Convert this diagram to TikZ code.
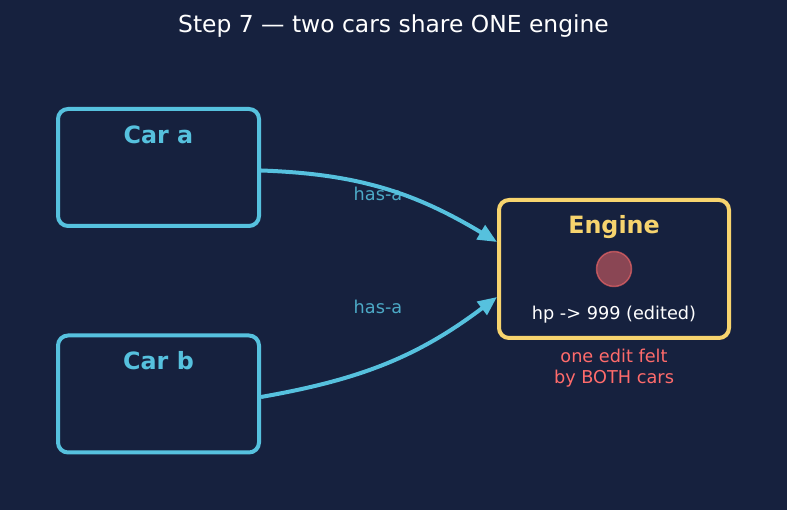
\documentclass[tikz,border=0pt]{standalone}
\usepackage{fontspec}
\setmainfont{DejaVu Sans}
\usetikzlibrary{arrows.meta, positioning}
\definecolor{bgnavy}{HTML}{16213E}
\definecolor{carblue}{HTML}{56C1DE}
\definecolor{engyellow}{HTML}{F7D46E}
\definecolor{editred}{HTML}{FF6B6B}

\begin{document}
\begin{tikzpicture}[x=1pt, y=1pt,
  every node/.style={font=\fontsize{17.7}{21}\selectfont},
  carbox/.style={draw=carblue, line width=4pt, rounded corners=10pt,
    minimum width=201pt, minimum height=117pt},
  engbox/.style={draw=engyellow, line width=4pt, rounded corners=10pt,
    minimum width=230pt, minimum height=138pt},
  boxtitle/.style={font=\fontsize{23.8}{28}\selectfont\bfseries},
  hasarrow/.style={draw=carblue, line width=4pt,
    -{Triangle[length=19pt, width=16pt]}}
]
  \fill[bgnavy] (0,0) rectangle (787,510);
  \node[white, font=\fontsize{23.4}{28}\selectfont] (title) at (393.5,484)
    {Step 7 — two cars share ONE engine};

  % the two cars
  \foreach \name/\lab/\y in {carA/Car a/342.5, carB/Car b/116}
  {
    \node[carbox] (\name) at (158.5,\y) {};
    \node[boxtitle, text=carblue] at ([yshift=-27.5pt]\name.north) {\lab};
  }

  % the shared engine
  \node[engbox] (engine) at (614,241) {};
  \node[boxtitle, text=engyellow] (engtitle) at ([yshift=-29pt]engine.north) {Engine};
  \fill[editred, opacity=0.5] (engine.center) circle (17.5);
  \draw[editred, opacity=0.6, line width=1.5pt] (engine.center) circle (17.5);
  \node[white] (hp) at ([yshift=-45.5pt]engine.center) {hp -> 999 (edited)};
  \node[text=editred, align=center] (note) at ([yshift=-99pt]engine.center)
    {one edit felt\\by BOTH cars};

  \node[text=carblue!85!bgnavy] (labA) at (378,316) {has-a};
  \node[text=carblue!85!bgnavy] (labB) at (378,203) {has-a};

  \draw[hasarrow] ([yshift=-3pt]carA.east) to[out=-2, in=149]
    ([yshift=27pt]engine.west);
  \draw[hasarrow] ([yshift=-3pt]carB.east) to[out=10, in=217]
    ([yshift=-28pt]engine.west);
\end{tikzpicture}
\end{document}
